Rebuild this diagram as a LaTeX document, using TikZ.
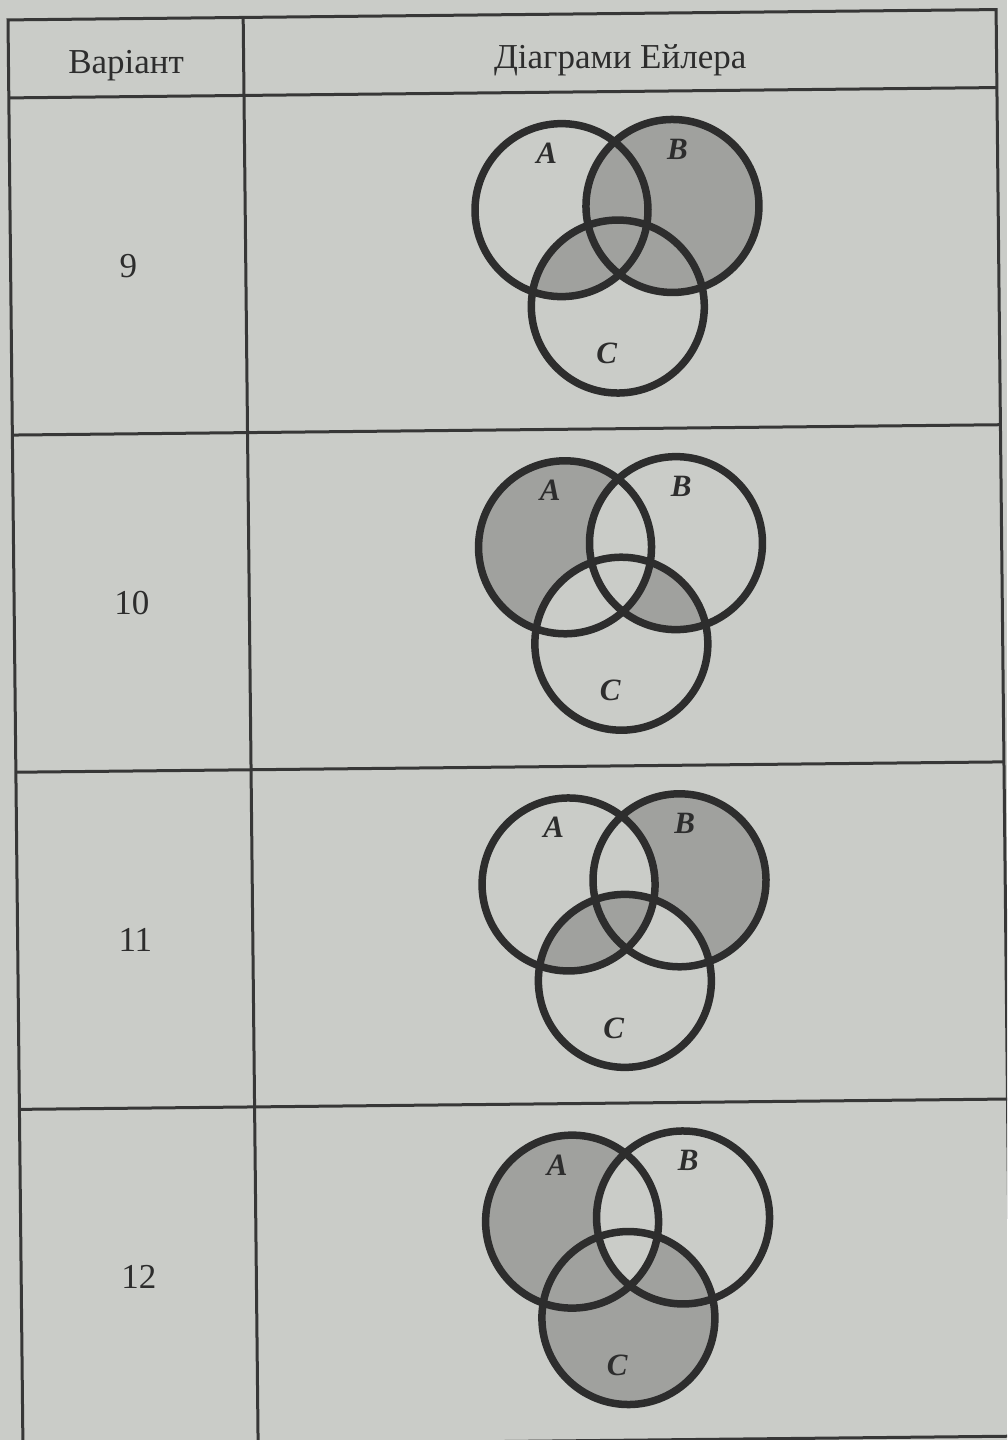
\documentclass[tikz,border=0pt]{standalone}
\usepackage{fontspec}
\setmainfont{Liberation Serif}
\definecolor{paper}{RGB}{202,204,200}
\definecolor{graysh}{RGB}{160,161,158}
\definecolor{ink}{RGB}{45,45,45}
\definecolor{rulec}{RGB}{55,55,55}
\begin{document}
\begin{tikzpicture}[x=1pt,y=1pt,
  tline/.style={draw=rulec,line width=3pt},
  vcirc/.style={draw=ink,line width=7.5pt},
  hdr/.style={font=\fontsize{35}{42}\selectfont,text=ink,anchor=base,inner sep=0pt},
  lbl/.style={font=\fontsize{31}{36}\selectfont\bfseries\itshape,text=ink,inner sep=0pt},
  cA/.style={insert path={(559.3,-118) circle[radius=86.5]}},
  cB/.style={insert path={(670.3,-115) circle[radius=86.5]}},
  cC/.style={insert path={(614.6,-215) circle[radius=86.5]}}]
\useasboundingbox (0,0) rectangle (1007,-1440);
\fill[paper] (0,0) rectangle (1007,-1440);
\clip (0,0) rectangle (1007,-1440);
\begin{scope}[rotate=0.6]
  % table frame
  \coordinate (tl) at (7.8,-20);
  \coordinate (tr) at (996,-20);
  \coordinate (bl) at (7.8,-1446.8);
  \coordinate (br) at (996,-1446.8);
  \coordinate (dt) at (243,-20);
  \coordinate (db) at (243,-1446.8);
  \draw[tline] (tl) -- (tr) -- (br) -- (bl) -- cycle;
  \draw[tline] (dt) -- (db);
  \foreach \yy/\nm in {-98/h, -435.2/r1, -772.4/r2, -1109.6/r3} {
    \coordinate (\nm l) at (7.8,\yy);
    \coordinate (\nm r) at (996,\yy);
    \draw[tline] (\nm l) -- (\nm r);
  }
  % header
  \node[hdr] (hvar) at (125.4,-75) {Варіант};
  \node[hdr] (hdia) at (619.5,-75) {Діаграми Ейлера};
  % row numbers
  \node[hdr] (n9)  at (125.4,-278.6) {9};
  \node[hdr] (n10) at (125.4,-615.8) {10};
  \node[hdr] (n11) at (125.4,-953.0) {11};
  \node[hdr] (n12) at (125.4,-1290.2) {12};
  % row 9: B u (A n C)
  \begin{scope}[yshift=-98pt]
    \fill[graysh,cB];
    \begin{scope}\clip[cA]; \fill[graysh,cC];\end{scope}
    \draw[vcirc,cA]; \draw[vcirc,cB]; \draw[vcirc,cC];
    \node[lbl] (a9) at (545,-61) {A};
    \node[lbl] (b9) at (676,-58) {B};
    \node[lbl] (c9) at (603,-262) {C};
  \end{scope}
  % row 10: A only, (B n C) \ A
  \begin{scope}[yshift=-435.2pt]
    \fill[graysh,cA];
    \fill[paper,cB]; \fill[paper,cC];
    \begin{scope}\clip[cB]; \fill[graysh,cC];\end{scope}
    \begin{scope}\clip[cB]; \clip[cC]; \fill[paper,cA];\end{scope}
    \draw[vcirc,cA]; \draw[vcirc,cB]; \draw[vcirc,cC];
    \node[lbl] (a10) at (545,-61) {A};
    \node[lbl] (b10) at (676,-58) {B};
    \node[lbl] (c10) at (603,-262) {C};
  \end{scope}
  % row 11: B only, A n C
  \begin{scope}[yshift=-772.4pt]
    \fill[graysh,cB];
    \fill[paper,cA]; \fill[paper,cC];
    \begin{scope}\clip[cA]; \fill[graysh,cC];\end{scope}
    \draw[vcirc,cA]; \draw[vcirc,cB]; \draw[vcirc,cC];
    \node[lbl] (a11) at (545,-61) {A};
    \node[lbl] (b11) at (676,-58) {B};
    \node[lbl] (c11) at (603,-262) {C};
  \end{scope}
  % row 12: (A u C) \ (A n B)
  \begin{scope}[yshift=-1109.6pt]
    \fill[graysh,cA]; \fill[graysh,cC];
    \begin{scope}\clip[cA]; \fill[paper,cB];\end{scope}
    \draw[vcirc,cA]; \draw[vcirc,cB]; \draw[vcirc,cC];
    \node[lbl] (a12) at (545,-61) {A};
    \node[lbl] (b12) at (676,-58) {B};
    \node[lbl] (c12) at (603,-262) {C};
  \end{scope}
\end{scope}
\end{tikzpicture}
\end{document}
